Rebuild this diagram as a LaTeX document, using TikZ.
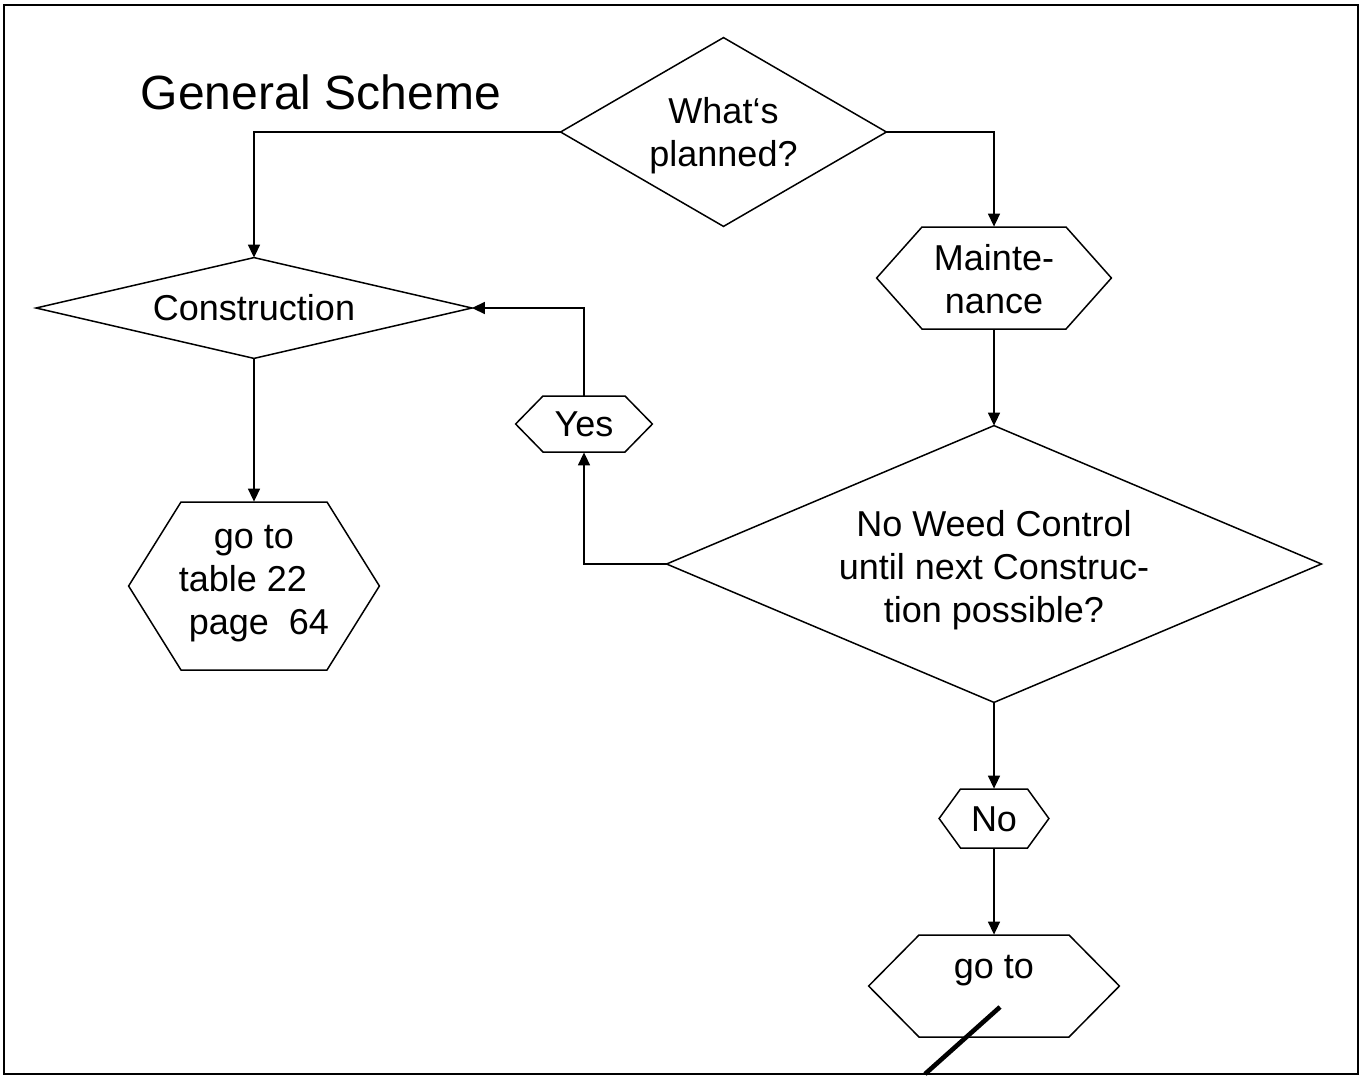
\documentclass[tikz,border=0pt]{standalone}
\usepackage{fontspec}
\setmainfont{Liberation Sans}
\usetikzlibrary{arrows.meta}

% diamond: name, cx, cy, half width, half height, text y, text
\newcommand\diabox[7]{%
  \node[minimum width=#4pt, minimum height=#5pt, inner sep=0pt] (#1) at (#2,#3) {};
  \draw[outline] (#1.west) -- (#1.north) -- (#1.east) -- (#1.south) -- cycle;
  \node[boxtext] (#1-text) at (#2,#6) {#7};
}
% hexagon: name, cx, cy, half width, half height, point depth, text y, text
\newcommand\hexbox[8]{%
  \node[minimum width=#4pt, minimum height=#5pt, inner sep=0pt] (#1) at (#2,#3) {};
  \draw[outline] (#1.west) -- ({#2-#4+#6},{#3-#5}) -- ({#2+#4-#6},{#3-#5})
    -- (#1.east) -- ({#2+#4-#6},{#3+#5}) -- ({#2-#4+#6},{#3+#5}) -- cycle;
  \node[boxtext] (#1-text) at (#2,#7) {#8};
}

\begin{document}
\begin{tikzpicture}[x=0.5pt,y=-0.5pt,
  outline/.style={draw=black, line width=0.75pt, line join=miter},
  boxtext/.style={font=\fontsize{18}{21.5}\selectfont, align=center, inner sep=0pt},
  frame/.style={draw=black, line width=1.2pt},
  flow/.style={draw=black, line width=0.75pt, -{Triangle[length=6.5pt,width=6pt]}},
  slash/.style={draw=black, line width=2.3pt}]

\useasboundingbox (0,0) rectangle (1364,1076);
\draw[frame] (4,5) rectangle (1358,1074);

\node[font=\fontsize{24}{28}\selectfont, anchor=base, inner sep=0pt] (title) at (321,109) {General Scheme};

% decisions
\diabox{planned}{723.5}{132}{162.5}{94}{136}{What‘s\\planned?}
\diabox{construction}{254}{308}{217.5}{50}{308}{Construction}
\diabox{weed}{994}{564}{327}{138}{570}{No Weed Control\\until next Construc-\\tion possible?}

% terminals and answers
\hexbox{maint}{994}{278}{117}{51}{45}{279}{Mainte-\\nance}
\hexbox{yes}{584}{424}{68}{28}{27}{424}{Yes}
\hexbox{no}{994}{818.5}{54.5}{29.5}{21}{819}{No}
\hexbox{gotoA}{254}{586}{125}{84}{52}{584}{go to\\table 22\rule{11pt}{0pt}\\\rule{5pt}{0pt}page\ \ 64}
\hexbox{gotoB}{994}{986}{125}{51}{50}{971}{go to}

% connectors
\draw[flow] (planned.west) -| (construction.north);
\draw[flow] (planned.east) -| (maint.north);
\draw[flow] (construction.south) -- (gotoA.north);
\draw[flow] (maint.south) -- (weed.north);
\draw[flow] (weed.west) -| (yes.south);
\draw[flow] (yes.north) |- (construction.east);
\draw[flow] (weed.south) -- (no.north);
\draw[flow] (no.south) -- (gotoB.north);

% heavy stroke across the last box
\draw[slash] (1000,1007) -- (925,1074);
\end{tikzpicture}
\end{document}
